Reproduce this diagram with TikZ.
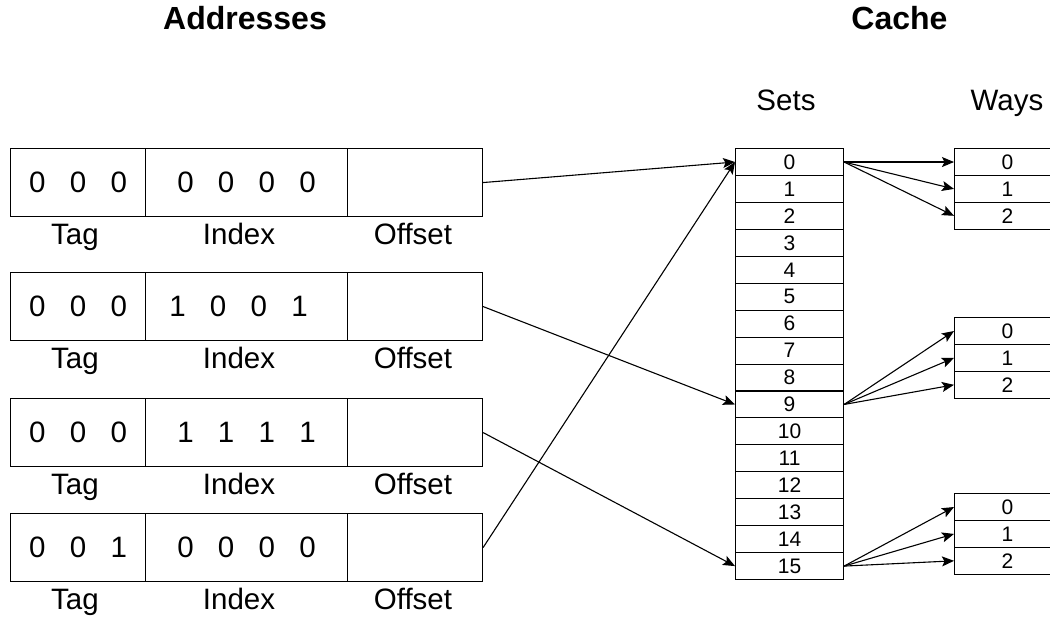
\documentclass[tikz,border=0pt]{standalone}
\usepackage{fontspec}
\setmainfont{Liberation Sans}
\usetikzlibrary{arrows.meta}
\newcommand\dg{\hspace{24.3pt}}
\begin{document}
\begin{tikzpicture}[x=1pt,y=-1pt,
  cell/.style={draw,line width=1.1pt,inner sep=0pt,anchor=north west,minimum height=68pt,font=\fontsize{29.5}{34}\selectfont},
  lbl/.style={anchor=base,inner sep=0pt,font=\fontsize{29.5}{34}\selectfont},
  ttl/.style={anchor=base,inner sep=0pt,font=\fontsize{32}{38}\selectfont\bfseries},
  setrow/.style={draw,line width=1.1pt,inner sep=0pt,anchor=north west,minimum width=108pt,minimum height=26.94pt,font=\fontsize{21}{24}\selectfont},
  wayrow/.style={setrow,minimum width=106pt},
  link/.style={line width=1.1pt,-{Stealth[length=12pt,width=10pt,inset=2.5pt]}}
]
\clip (0,0) rectangle (1050,619);
% titles
\node[ttl] (tA) at (245,29) {Addresses};
\node[ttl] (tC) at (899.5,29) {Cache};
\node[lbl] (tS) at (786,110) {Sets};
\node[lbl] (tW) at (1007,110) {Ways};
% address boxes
\foreach \n/\y/\ta/\ix in {1/148/0\dg0\dg0/0\dg0\dg0\dg0,
                           2/272/0\dg0\dg0/\kern-16pt1\dg0\dg0\dg1,
                           3/398/0\dg0\dg0/1\dg1\dg1\dg1,
                           4/513/0\dg0\dg1/0\dg0\dg0\dg0}{
  \node[cell,minimum width=135pt] (tag\n) at (10,\y) {\ta};
  \node[cell,minimum width=202pt] (idx\n) at (145,\y) {\ix};
  \node[cell,minimum width=135pt] (off\n) at (347,\y) {};
  \node[lbl] (ltag\n) at (75,{\y+96}) {Tag};
  \node[lbl] (lidx\n) at (239,{\y+96}) {Index};
  \node[lbl] (loff\n) at (413,{\y+96}) {Offset};
}
% sets
\foreach \i in {0,...,15}{
  \node[setrow] (s\i) at (735,{148+\i*26.9375}) {\i};
}
% ways
\foreach \g/\y in {a/148,b/317,c/493}{
  \foreach \j in {0,1,2}{
    \node[wayrow] (\g\j) at (954,{\y+\j*26.9}) {\j};
  }
}
% connectors
\draw[link] (off1.east) -- (s0.west);
\draw[link] (off2.east) -- (s9.west);
\draw[link] (off3.east) -- (s15.west);
\draw[link] (off4.east) -- (s0.west);
\foreach \j in {0,1,2}{
  \draw[link] (s0.east) -- (a\j.west);
  \draw[link] (s9.east) -- (b\j.west);
  \draw[link] (s15.east) -- (c\j.west);
}
\end{tikzpicture}
\end{document}
